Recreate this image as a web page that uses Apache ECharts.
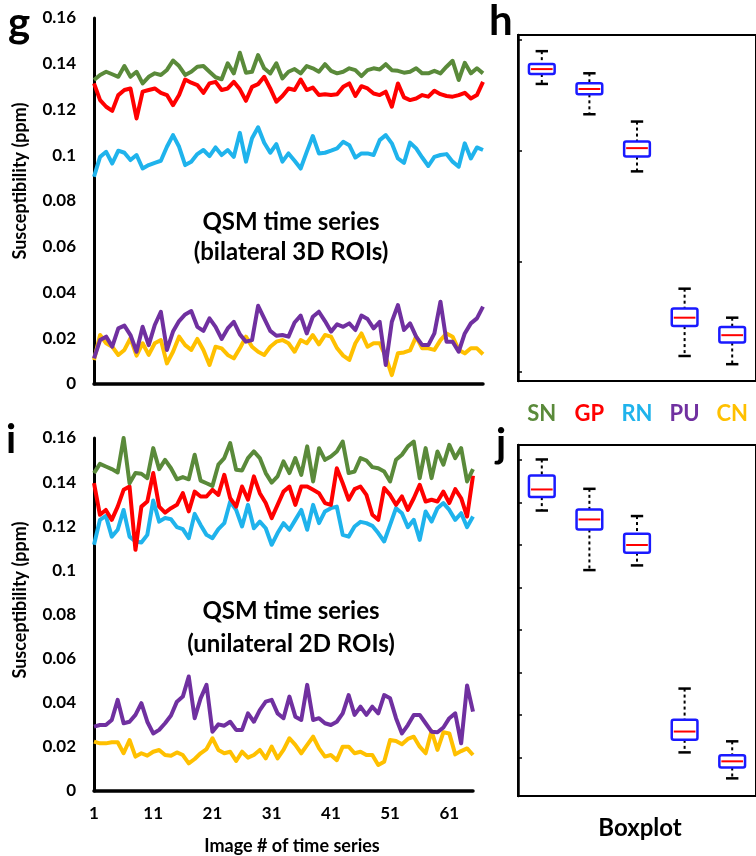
<!DOCTYPE html>
<html>
<head>
<meta charset="utf-8">
<script src="https://cdn.jsdelivr.net/npm/echarts@6/dist/echarts.min.js"></script>
<style>
  html, body { margin: 0; padding: 0; background: #fff; }
  #visualisation { width: 756px; height: 856px; }
</style>
</head>
<body>
<div id="visualisation"></div>
<script>
// Regio's (hersenkernen) en hun kleuren.
const regions = ['SN', 'GP', 'RN', 'PU', 'CN'];
const regionColours = ['#5a8a3a', '#ff0000', '#1fb3ec', '#7030a0', '#ffc000'];

// Beeldnummers van de tijdreeks.
const imageNumbers = [1, 2, 3, 4, 5, 6, 7, 8, 9, 10, 11, 12, 13, 14, 15, 16, 17, 18, 19, 20,
    21, 22, 23, 24, 25, 26, 27, 28, 29, 30, 31, 32, 33, 34, 35, 36, 37, 38, 39, 40,
    41, 42, 43, 44, 45, 46, 47, 48, 49, 50, 51, 52, 53, 54, 55, 56, 57, 58, 59, 60,
    61, 62, 63, 64, 65];

// Tijdreeks g: bilaterale 3D ROI's.
const bilateralSN = [0.1329, 0.1351, 0.1365, 0.1354, 0.1343, 0.1390, 0.1343, 0.1365, 0.1314, 0.1343,
    0.1358, 0.1351, 0.1373, 0.1414, 0.1390, 0.1351, 0.1365, 0.1387, 0.1390, 0.1365,
    0.1341, 0.1332, 0.1402, 0.1358, 0.1448, 0.1361, 0.1365, 0.1438, 0.1380, 0.1358,
    0.1402, 0.1336, 0.1365, 0.1377, 0.1358, 0.1390, 0.1380, 0.1365, 0.1398, 0.1369,
    0.1358, 0.1365, 0.1380, 0.1372, 0.1346, 0.1372, 0.1380, 0.1375, 0.1398, 0.1372,
    0.1369, 0.1361, 0.1365, 0.1380, 0.1358, 0.1358, 0.1369, 0.1358, 0.1387, 0.1413,
    0.1329, 0.1404, 0.1358, 0.1380, 0.1358];
const bilateralGP = [0.1314, 0.1241, 0.1212, 0.1194, 0.1263, 0.1285, 0.1292, 0.1161, 0.1278, 0.1285,
    0.1292, 0.1273, 0.1263, 0.1219, 0.1263, 0.1331, 0.1317, 0.1307, 0.1273, 0.1314,
    0.1321, 0.1285, 0.1292, 0.1321, 0.1288, 0.1238, 0.1299, 0.1311, 0.1343, 0.1292,
    0.1234, 0.1259, 0.1292, 0.1285, 0.1331, 0.1285, 0.1296, 0.1263, 0.1267, 0.1263,
    0.1267, 0.1299, 0.1314, 0.1259, 0.1302, 0.1292, 0.1270, 0.1263, 0.1278, 0.1212,
    0.1314, 0.1253, 0.1241, 0.1248, 0.1263, 0.1256, 0.1282, 0.1267, 0.1259, 0.1256,
    0.1263, 0.1273, 0.1248, 0.1263, 0.1321];
const bilateralRN = [0.0906, 0.0993, 0.1015, 0.0964, 0.1020, 0.1011, 0.0979, 0.1001, 0.0942, 0.0957,
    0.0967, 0.0976, 0.1037, 0.1088, 0.1037, 0.0957, 0.0972, 0.1005, 0.1023, 0.0996,
    0.1034, 0.1001, 0.1023, 0.0993, 0.1098, 0.0972, 0.1074, 0.1122, 0.1055, 0.1011,
    0.1049, 0.0972, 0.1008, 0.0976, 0.0942, 0.1015, 0.1084, 0.1008, 0.1011, 0.1020,
    0.1030, 0.1059, 0.1044, 0.0990, 0.1008, 0.1008, 0.1001, 0.1066, 0.1088, 0.1052,
    0.0986, 0.0967, 0.1055, 0.1030, 0.0990, 0.0953, 0.0993, 0.1001, 0.1005, 0.0972,
    0.0950, 0.1052, 0.0986, 0.1034, 0.1023];
const bilateralPU = [0.0112, 0.0192, 0.0207, 0.0163, 0.0243, 0.0255, 0.0214, 0.0141, 0.0250, 0.0170,
    0.0258, 0.0316, 0.0149, 0.0229, 0.0275, 0.0304, 0.0319, 0.0250, 0.0232, 0.0287,
    0.0250, 0.0197, 0.0243, 0.0272, 0.0217, 0.0185, 0.0192, 0.0342, 0.0287, 0.0232,
    0.0211, 0.0214, 0.0207, 0.0269, 0.0299, 0.0221, 0.0294, 0.0316, 0.0275, 0.0229,
    0.0261, 0.0250, 0.0265, 0.0236, 0.0299, 0.0284, 0.0243, 0.0272, 0.0083, 0.0272,
    0.0345, 0.0236, 0.0265, 0.0207, 0.0170, 0.0170, 0.0221, 0.0360, 0.0185, 0.0185,
    0.0141, 0.0221, 0.0265, 0.0287, 0.0338];
const bilateralCN = [0.0105, 0.0214, 0.0178, 0.0163, 0.0127, 0.0149, 0.0200, 0.0124, 0.0178, 0.0127,
    0.0178, 0.0192, 0.0090, 0.0141, 0.0207, 0.0170, 0.0149, 0.0197, 0.0149, 0.0083,
    0.0163, 0.0156, 0.0127, 0.0112, 0.0156, 0.0207, 0.0163, 0.0141, 0.0127, 0.0163,
    0.0185, 0.0192, 0.0178, 0.0141, 0.0192, 0.0178, 0.0214, 0.0173, 0.0214, 0.0207,
    0.0156, 0.0124, 0.0105, 0.0178, 0.0221, 0.0163, 0.0178, 0.0178, 0.0119, 0.0039,
    0.0134, 0.0138, 0.0147, 0.0207, 0.0156, 0.0156, 0.0149, 0.0192, 0.0221, 0.0207,
    0.0149, 0.0134, 0.0156, 0.0156, 0.0130];

// Tijdreeks i: unilaterale 2D ROI's.
const unilateralSN = [0.1441, 0.1483, 0.1471, 0.1459, 0.1444, 0.1600, 0.1395, 0.1441, 0.1438, 0.1418,
    0.1554, 0.1459, 0.1501, 0.1463, 0.1413, 0.1423, 0.1413, 0.1524, 0.1407, 0.1395,
    0.1383, 0.1479, 0.1509, 0.1577, 0.1456, 0.1453, 0.1509, 0.1539, 0.1509, 0.1441,
    0.1398, 0.1426, 0.1494, 0.1441, 0.1509, 0.1433, 0.1562, 0.1403, 0.1554, 0.1501,
    0.1516, 0.1539, 0.1584, 0.1441, 0.1448, 0.1509, 0.1498, 0.1468, 0.1463, 0.1448,
    0.1403, 0.1501, 0.1524, 0.1562, 0.1584, 0.1418, 0.1554, 0.1418, 0.1539, 0.1479,
    0.1569, 0.1509, 0.1554, 0.1403, 0.1459];
const unilateralGP = [0.1395, 0.1252, 0.1274, 0.1229, 0.1289, 0.1365, 0.1380, 0.1093, 0.1289, 0.1312,
    0.1441, 0.1289, 0.1262, 0.1282, 0.1297, 0.1350, 0.1267, 0.1357, 0.1335, 0.1335,
    0.1365, 0.1342, 0.1433, 0.1327, 0.1289, 0.1380, 0.1320, 0.1426, 0.1350, 0.1305,
    0.1237, 0.1297, 0.1357, 0.1380, 0.1297, 0.1380, 0.1380, 0.1365, 0.1350, 0.1305,
    0.1297, 0.1463, 0.1395, 0.1320, 0.1368, 0.1380, 0.1342, 0.1252, 0.1229, 0.1373,
    0.1342, 0.1297, 0.1335, 0.1274, 0.1327, 0.1388, 0.1312, 0.1320, 0.1312, 0.1357,
    0.1305, 0.1368, 0.1327, 0.1244, 0.1429];
const unilateralRN = [0.1116, 0.1229, 0.1247, 0.1153, 0.1184, 0.1274, 0.1153, 0.1131, 0.1126, 0.1161,
    0.1317, 0.1221, 0.1237, 0.1232, 0.1196, 0.1187, 0.1146, 0.1256, 0.1206, 0.1161,
    0.1146, 0.1187, 0.1214, 0.1312, 0.1274, 0.1199, 0.1297, 0.1191, 0.1221, 0.1191,
    0.1116, 0.1169, 0.1214, 0.1184, 0.1229, 0.1274, 0.1184, 0.1297, 0.1214, 0.1267,
    0.1282, 0.1289, 0.1161, 0.1153, 0.1199, 0.1220, 0.1214, 0.1202, 0.1169, 0.1131,
    0.1206, 0.1282, 0.1259, 0.1196, 0.1229, 0.1138, 0.1267, 0.1221, 0.1282, 0.1305,
    0.1274, 0.1229, 0.1259, 0.1196, 0.1244];
const unilateralPU = [0.0292, 0.0299, 0.0299, 0.0322, 0.0413, 0.0307, 0.0314, 0.0345, 0.0398, 0.0314,
    0.0261, 0.0277, 0.0307, 0.0342, 0.0405, 0.0428, 0.0519, 0.0330, 0.0420, 0.0481,
    0.0269, 0.0302, 0.0296, 0.0314, 0.0277, 0.0277, 0.0352, 0.0314, 0.0367, 0.0405,
    0.0413, 0.0352, 0.0330, 0.0428, 0.0337, 0.0322, 0.0481, 0.0322, 0.0330, 0.0307,
    0.0299, 0.0314, 0.0352, 0.0435, 0.0345, 0.0382, 0.0345, 0.0382, 0.0352, 0.0435,
    0.0420, 0.0330, 0.0261, 0.0299, 0.0345, 0.0345, 0.0307, 0.0269, 0.0266, 0.0288,
    0.0330, 0.0352, 0.0216, 0.0478, 0.0360];
const unilateralCN = [0.0224, 0.0216, 0.0216, 0.0221, 0.0221, 0.0171, 0.0231, 0.0156, 0.0171, 0.0160,
    0.0178, 0.0186, 0.0163, 0.0160, 0.0175, 0.0163, 0.0125, 0.0145, 0.0171, 0.0190,
    0.0239, 0.0186, 0.0171, 0.0178, 0.0136, 0.0178, 0.0151, 0.0163, 0.0186, 0.0148,
    0.0201, 0.0148, 0.0186, 0.0239, 0.0209, 0.0171, 0.0209, 0.0246, 0.0193, 0.0156,
    0.0163, 0.0140, 0.0201, 0.0201, 0.0171, 0.0178, 0.0163, 0.0163, 0.0118, 0.0133,
    0.0231, 0.0227, 0.0212, 0.0236, 0.0246, 0.0201, 0.0171, 0.0272, 0.0186, 0.0266,
    0.0261, 0.0166, 0.0181, 0.0193, 0.0163];

// Boxplots: [onderste whisker, Q1, mediaan, Q3, bovenste whisker] per regio.
const boxBilateral = [
    [0.1302, 0.1347, 0.1369, 0.1392, 0.1450],
    [0.1165, 0.1255, 0.1279, 0.1305, 0.1350],
    [0.0907, 0.0974, 0.1012, 0.1042, 0.1132],
    [0.0073, 0.0208, 0.0246, 0.0288, 0.0377],
    [0.0036, 0.0134, 0.0167, 0.0204, 0.0246]
];
const boxUnilateral = [
    [0.1362, 0.1425, 0.1461, 0.1527, 0.1602],
    [0.1082, 0.1273, 0.1320, 0.1367, 0.1464],
    [0.1104, 0.1164, 0.1200, 0.1253, 0.1336],
    [0.0225, 0.0284, 0.0323, 0.0378, 0.0525],
    [0.0103, 0.0154, 0.0183, 0.0212, 0.0277]
];

// Tickwaarden van de boxplot-assen.
const boxTicksBilateral = [0, 0.05, 0.1, 0.15];
const boxTicksUnilateral = [0.02, 0.04, 0.06, 0.08, 0.1, 0.12, 0.14, 0.16];

const FONT = 'Lato';

function renderBox(params, api) {
    const x = api.value(0);
    const lo = api.coord([x, api.value(1)]);
    const q1 = api.coord([x, api.value(2)]);
    const med = api.coord([x, api.value(3)]);
    const q3 = api.coord([x, api.value(4)]);
    const hi = api.coord([x, api.value(5)]);
    const band = api.size([1, 0])[0];
    const bw = band * 0.54;
    const cw = band * 0.26;
    const cx = lo[0];
    const dash = { stroke: '#000', lineWidth: 2, lineDash: [3, 3] };
    const cap = { stroke: '#000', lineWidth: 2.5 };
    return {
        type: 'group',
        children: [
            { type: 'line', shape: { x1: cx, y1: hi[1], x2: cx, y2: q3[1] }, style: dash },
            { type: 'line', shape: { x1: cx, y1: q1[1], x2: cx, y2: lo[1] }, style: dash },
            { type: 'line', shape: { x1: cx - cw / 2, y1: hi[1], x2: cx + cw / 2, y2: hi[1] }, style: cap },
            { type: 'line', shape: { x1: cx - cw / 2, y1: lo[1], x2: cx + cw / 2, y2: lo[1] }, style: cap },
            { type: 'rect', shape: { x: cx - bw / 2, y: q3[1], width: bw, height: q1[1] - q3[1], r: 2 },
              style: { fill: '#fff', stroke: '#1a1aff', lineWidth: 2.5 } },
            { type: 'line', shape: { x1: cx - bw / 2 + 2, y1: med[1], x2: cx + bw / 2 - 2, y2: med[1] },
              style: { stroke: '#ff0000', lineWidth: 2 } }
        ]
    };
}

function lineYAxis(gridIndex) {
    return {
        type: 'value', gridIndex: gridIndex, min: 0, max: 0.16, interval: 0.02,
        axisLine: { show: true, lineStyle: { color: '#000', width: 3 } },
        axisTick: { show: false },
        splitLine: { show: false },
        axisLabel: { color: '#000', fontFamily: FONT, fontWeight: 'bold', fontSize: 17, margin: 18 }
    };
}

function boxYAxis(gridIndex, min, max, ticks) {
    return {
        type: 'value', gridIndex: gridIndex, min: min, max: max,
        axisLine: { show: true, lineStyle: { color: '#000', width: 2.5 } },
        axisTick: { show: true, inside: true, length: 4, customValues: ticks, lineStyle: { color: '#000', width: 1.5 } },
        axisLabel: { show: false },
        splitLine: { show: false }
    };
}

function drawVisualisation() {
    let visualisation = echarts.init(document.getElementById('visualisation'));

    let bilateral = [bilateralSN, bilateralGP, bilateralRN, bilateralPU, bilateralCN];
    let unilateral = [unilateralSN, unilateralGP, unilateralRN, unilateralPU, unilateralCN];

    let series = [];
    regions.forEach((name, k) => {
        series.push({ name: name, type: 'line', xAxisIndex: 0, yAxisIndex: 0, data: bilateral[k],
            symbol: 'none', lineStyle: { width: 4, color: regionColours[k], join: 'round' }, z: 10 - k });
        series.push({ name: name, type: 'line', xAxisIndex: 1, yAxisIndex: 1, data: unilateral[k],
            symbol: 'none', lineStyle: { width: 4, color: regionColours[k], join: 'round' }, z: 10 - k });
    });
    series.push({ type: 'custom', xAxisIndex: 2, yAxisIndex: 2, renderItem: renderBox,
        encode: { x: 0, y: [1, 2, 3, 4, 5] },
        data: boxBilateral.map((row, k) => [k].concat(row)) });
    series.push({ type: 'custom', xAxisIndex: 3, yAxisIndex: 3, renderItem: renderBox,
        encode: { x: 0, y: [1, 2, 3, 4, 5] },
        data: boxUnilateral.map((row, k) => [k].concat(row)) });

    const bold = (size) => ({ fontFamily: FONT, fontWeight: 'bold', fontSize: size, fill: '#000' });

    /** @type EChartsOption */
    let option = {
        animation: false,
        backgroundColor: '#fff',
        grid: [
            { left: 94, top: 18, width: 389, height: 366 },
            { left: 94, top: 438, width: 379, height: 353 },
            { left: 518, top: 35, width: 246, height: 346, show: true, borderColor: '#000', borderWidth: 2 },
            { left: 518, top: 445, width: 246, height: 351, show: true, borderColor: '#000', borderWidth: 2 }
        ],
        xAxis: [
            { type: 'category', gridIndex: 0, data: imageNumbers, boundaryGap: false,
              axisLine: { lineStyle: { color: '#000', width: 3.5 } }, axisTick: { show: false }, axisLabel: { show: false } },
            { type: 'category', gridIndex: 1, data: imageNumbers, boundaryGap: false,
              axisLine: { lineStyle: { color: '#000', width: 3.5 } }, axisTick: { show: false },
              axisLabel: { interval: 9, color: '#000', fontFamily: FONT, fontWeight: 'bold', fontSize: 17, margin: 14 } },
            { type: 'category', gridIndex: 2, data: regions,
              axisLine: { onZero: false, lineStyle: { color: '#000', width: 2 } }, axisTick: { show: false }, axisLabel: { show: false } },
            { type: 'category', gridIndex: 3, data: regions, position: 'top',
              axisLine: { onZero: false, lineStyle: { color: '#000', width: 2 } }, axisTick: { show: false },
              axisLabel: { margin: 20, fontFamily: FONT, fontWeight: 'bold', fontSize: 22,
                  color: (value, index) => regionColours[index] } }
        ],
        yAxis: [
            lineYAxis(0),
            lineYAxis(1),
            boxYAxis(2, -0.004, 0.1523, boxTicksBilateral),
            boxYAxis(3, 0.002, 0.167, boxTicksUnilateral)
        ],
        series: series,
        graphic: [
            // Paneelletters.
            { type: 'text', left: 8, top: 2, style: Object.assign({ text: 'g' }, bold(42)) },
            { type: 'text', left: 489, top: 0, style: Object.assign({ text: 'h' }, bold(42)) },
            { type: 'text', left: 6, top: 420, style: Object.assign({ text: 'i' }, bold(40)) },
            { type: 'text', left: 496, top: 424, style: Object.assign({ text: 'j' }, bold(40)) },
            // Astitels.
            { type: 'text', x: 20, y: 181, rotation: Math.PI / 2,
              style: Object.assign({ text: 'Susceptibility (ppm)', textAlign: 'center', textVerticalAlign: 'middle' }, bold(18)) },
            { type: 'text', x: 20, y: 600, rotation: Math.PI / 2,
              style: Object.assign({ text: 'Susceptibility (ppm)', textAlign: 'center', textVerticalAlign: 'middle' }, bold(18)) },
            { type: 'text', x: 292, y: 846,
              style: Object.assign({ text: 'Image # of time series', textAlign: 'center', textVerticalAlign: 'middle' }, bold(18)) },
            { type: 'text', x: 640, y: 828,
              style: Object.assign({ text: 'Boxplot', textAlign: 'center', textVerticalAlign: 'middle' }, bold(24)) },
            // Paneeltitels.
            { type: 'text', x: 291, y: 237,
              style: Object.assign({ text: 'QSM time series\n(bilateral 3D ROIs)', textAlign: 'center',
                  textVerticalAlign: 'middle', lineHeight: 30 }, bold(24)) },
            { type: 'text', x: 291, y: 628,
              style: Object.assign({ text: 'QSM time series\n(unilateral 2D ROIs)', textAlign: 'center',
                  textVerticalAlign: 'middle', lineHeight: 33 }, bold(24)) }
        ]
    };

    visualisation.setOption(option);
}

window.addEventListener('load', drawVisualisation);
</script>
</body>
</html>
